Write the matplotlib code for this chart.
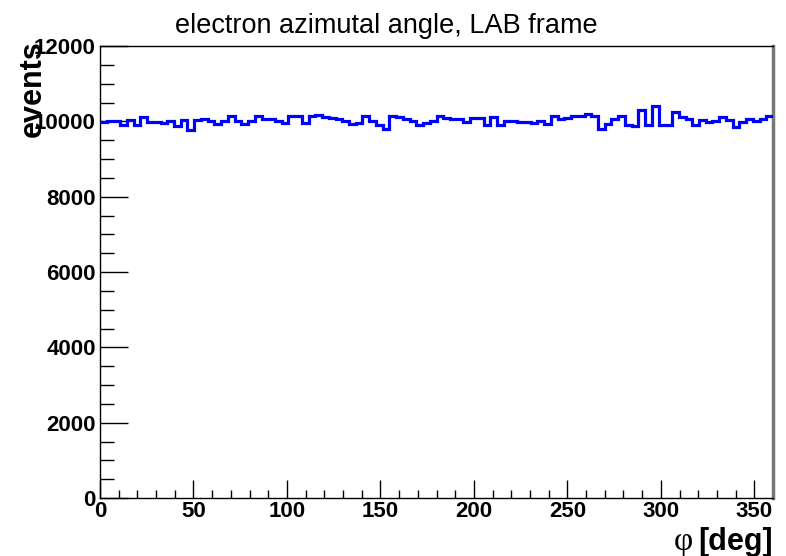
import numpy as np
import matplotlib
matplotlib.use("Agg")
import matplotlib.pyplot as plt
from matplotlib.ticker import MultipleLocator

# histogram contents, 100 bins from 0 to 360 deg
counts = [
    9990, 10010, 10020, 9900, 10040, 9900, 10110, 9980, 9980, 9950,
    10000, 9870, 10040, 9780, 10040, 10070, 10010, 9940, 10020, 10150,
    10000, 9930, 10000, 10150, 10060, 10050, 10020, 9950, 10130, 10130,
    9950, 10130, 10180, 10110, 10090, 10070, 10010, 9940, 9950, 10130,
    10020, 9900, 9800, 10130, 10110, 10070, 10000, 9900, 9950, 10020,
    10130, 10100, 10070, 10070, 9980, 10100, 10100, 9900, 10110, 9900,
    10000, 10000, 9980, 9980, 9950, 10020, 9920, 10150, 10070, 10100,
    10130, 10150, 10200, 10150, 9800, 9920, 10060, 10150, 9890, 9870,
    10290, 9890, 10420, 9910, 9910, 10260, 10110, 10050, 9910, 10030,
    9980, 10000, 10110, 10030, 9850, 9980, 10070, 10000, 10070, 10140,
]
phi_min, phi_max = 0, 360
x_ticks = [0, 50, 100, 150, 200, 250, 300, 350]
y_ticks = [0, 2000, 4000, 6000, 8000, 10000, 12000]

plt.rcParams['font.family'] = ['Liberation Sans', 'DejaVu Sans']

W, H = 786, 556
fig = plt.figure(figsize=(W / 100, H / 100), dpi=100)
ax = fig.add_axes([100 / W, 1 - 498 / H, 673 / W, 452 / H])

edges = np.linspace(phi_min, phi_max, len(counts) + 1)
ax.stairs(counts, edges, baseline=None, color='#0000ff', linewidth=2.3, zorder=3)

ax.set_xlim(phi_min, phi_max)
ax.set_ylim(0, 12000)
ax.set_xticks(x_ticks)
ax.set_yticks(y_ticks)
ax.xaxis.set_minor_locator(MultipleLocator(10))
ax.yaxis.set_minor_locator(MultipleLocator(500))

ax.tick_params(axis='x', which='major', direction='in', length=13, width=1, pad=2,
               labelsize=16, top=False)
ax.tick_params(axis='x', which='minor', direction='in', length=6, width=1, top=False)
ax.tick_params(axis='y', which='major', direction='in', length=20, width=1, pad=3,
               labelsize=16, right=False)
ax.tick_params(axis='y', which='minor', direction='in', length=10, width=1, right=False)
for lab in ax.get_xticklabels() + ax.get_yticklabels():
    lab.set_fontweight('bold')
for sp in ax.spines.values():
    sp.set_linewidth(1)
ax.spines['right'].set_color('#777777')
ax.spines['right'].set_linewidth(2.5)

fig.text(386 / W, 1 - 26 / H, 'electron azimutal angle, LAB frame', ha='center', va='center',
         fontsize=19.5)
fig.text(33 / W, 1 - 40 / H, 'events', rotation=90, ha='center', va='top',
         fontsize=22, fontweight='bold')
fig.text(773 / W, 1 - 550 / H, '[deg]', ha='right', va='baseline',
         fontsize=22, fontweight='bold')
fig.text(693 / W, 1 - 550 / H, 'φ', ha='right', va='baseline',
         fontsize=24, family=['Liberation Serif', 'DejaVu Serif'])

fig.savefig('out.png', dpi=100)
